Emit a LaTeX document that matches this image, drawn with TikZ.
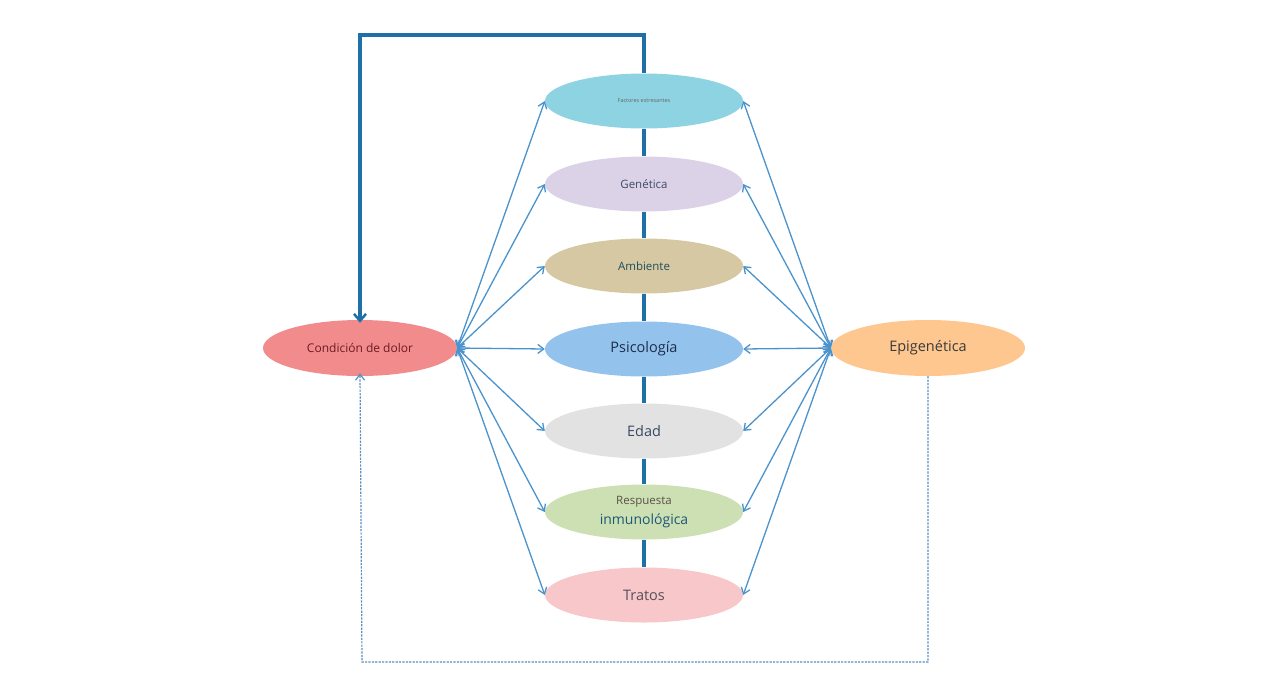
\documentclass[tikz,border=0pt]{standalone}
\usepackage{fontspec}
\setmainfont{Open Sans}
\usetikzlibrary{shapes.geometric,arrows.meta}
\definecolor{thick}{HTML}{1F6FA8}
\definecolor{thin}{HTML}{4A93CC}
\definecolor{dash}{HTML}{5A8FBF}
\definecolor{cfac}{HTML}{8ED3E1}
\definecolor{cgen}{HTML}{DBD2E8}
\definecolor{camb}{HTML}{D6C8A3}
\definecolor{cpsi}{HTML}{93C3EC}
\definecolor{ceda}{HTML}{E2E2E2}
\definecolor{cres}{HTML}{CCE0B3}
\definecolor{ctra}{HTML}{F7C7C9}
\definecolor{ccon}{HTML}{F28C8C}
\definecolor{cepi}{HTML}{FDC78F}
\definecolor{tgen}{HTML}{3E4A68}
\definecolor{tamb}{HTML}{1E4F5A}
\definecolor{tpsi}{HTML}{1E2D4A}
\definecolor{teda}{HTML}{3A4A62}
\definecolor{tres}{HTML}{5A5048}
\definecolor{tinm}{HTML}{1E5878}
\definecolor{ttra}{HTML}{55505A}
\definecolor{tcon}{HTML}{6E1A26}
\definecolor{tepi}{HTML}{3A3A3A}
\tikzset{
  ell/.style={ellipse, draw=none, minimum width=198pt, minimum height=55pt, inner sep=0pt, align=center},
  biarrow/.style={draw=thin, line width=1.3pt, {Straight Barb[length=6pt,width=9pt]}-{Straight Barb[length=6pt,width=9pt]}},
  spine/.style={draw=thick, line width=3.3pt},
  dashline/.style={draw=dash, line width=1.2pt, dash pattern=on 2.2pt off 1.2pt}
}
\begin{document}
\begin{tikzpicture}[x=1pt,y=-1pt]
\useasboundingbox (0,0) rectangle (1276,681);
\node[ell, fill=cfac, text=gray!80!black, font=\fontsize{5.5}{6}\selectfont] (fac) at (644,101) {Factores estresantes};
\node[ell, fill=cgen, text=tgen, font=\fontsize{11.5}{13}\selectfont] (gen) at (644,184) {Genética};
\node[ell, fill=camb, text=tamb, font=\fontsize{11.5}{13}\selectfont] (amb) at (644,266) {Ambiente};
\node[ell, fill=cpsi, text=tpsi, font=\fontsize{14.5}{16}\selectfont] (psi) at (644,349) {Psicología};
\node[ell, fill=ceda, text=teda, font=\fontsize{14.5}{16}\selectfont] (eda) at (644,431) {Edad};
\node[ell, fill=cres, text=tres] (res) at (644,512) {{\fontsize{11.5}{13}\selectfont Respuesta}\\[6pt]{\fontsize{14}{15}\selectfont\color{tinm} inmunológica}};
\node[ell, fill=ctra, text=ttra, font=\fontsize{14.5}{16}\selectfont] (tra) at (644,595) {Tratos};
\node[ell, minimum width=194pt, minimum height=56pt, fill=ccon, text=tcon, font=\fontsize{12}{14}\selectfont] (con) at (360,348) {Condición de dolor};
\node[ell, minimum width=194pt, minimum height=56pt, fill=cepi, text=tepi, font=\fontsize{14.5}{16}\selectfont] (epi) at (928,348) {Epigenética};
% spine
\coordinate (top) at (644,35);
\coordinate (bot) at (362,662);
\draw[spine] (fac.south) -- (gen.north);
\draw[spine] (gen.south) -- (amb.north);
\draw[spine] (amb.south) -- (psi.north);
\draw[spine] (psi.south) -- (eda.north);
\draw[spine] (eda.south) -- (res.north);
\draw[spine] (res.south) -- (tra.north);
\draw[spine, -{Straight Barb[length=7pt,width=12pt,line width=2.5pt]}] (fac.north) -- (top) -| ([yshift=-3pt]con.north);
% dashed feedback
\draw[dashline, -{Straight Barb[length=6pt,width=9pt]}] (epi.south) |- (bot) -- ([yshift=3pt]con.south);
% thin arrows
\foreach \n in {fac,gen,amb,psi,eda,res,tra}{
  \draw[biarrow] (con.east) -- (\n.west);
  \draw[biarrow] (epi.west) -- (\n.east);
}
\end{tikzpicture}
\end{document}
